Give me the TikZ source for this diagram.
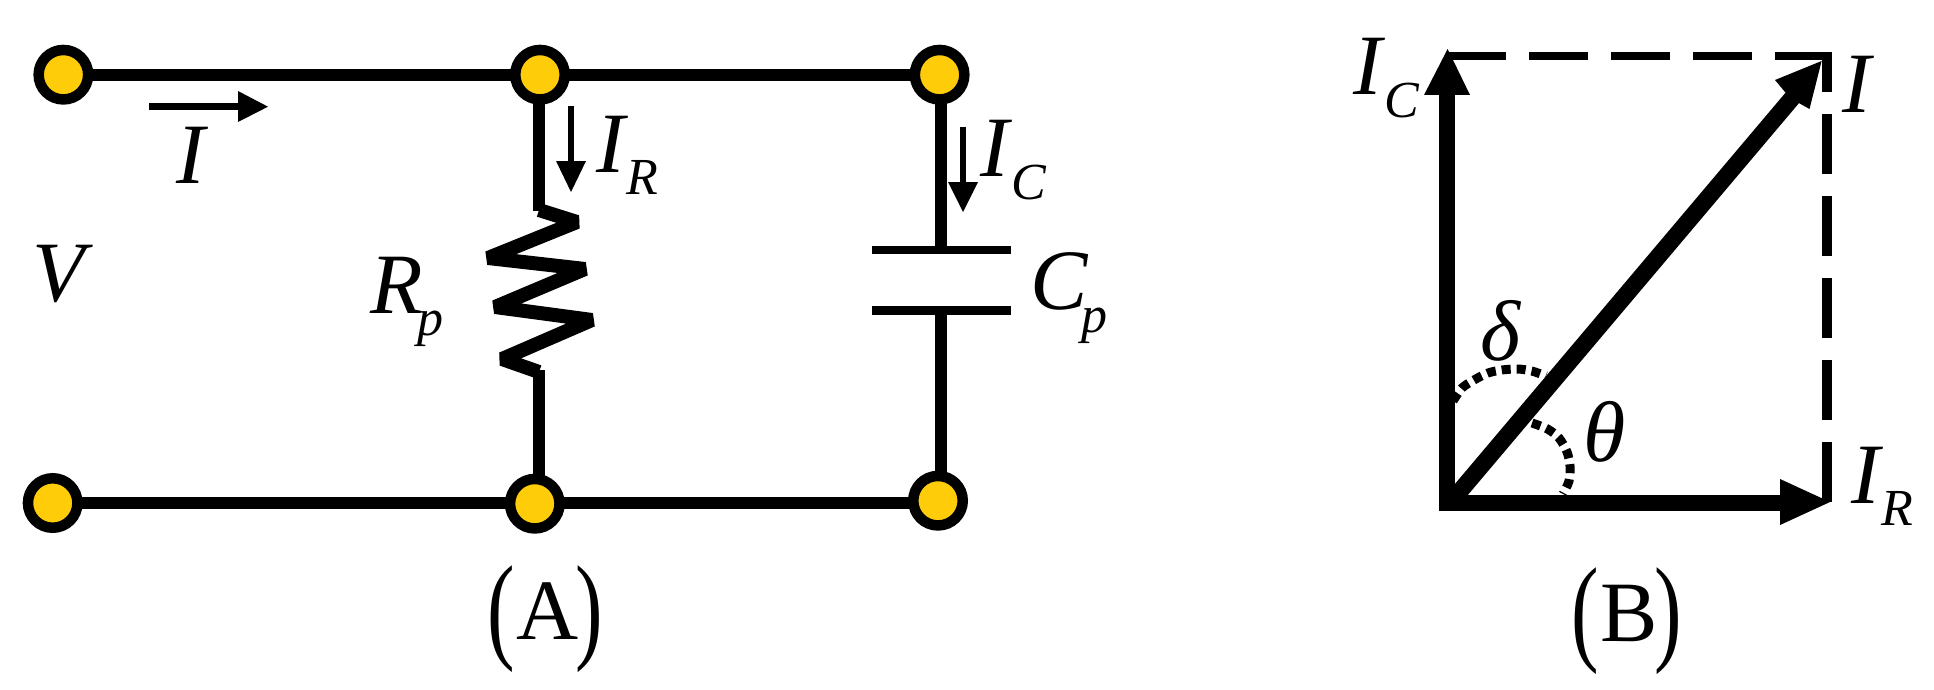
\documentclass[tikz,border=0pt]{standalone}
\usepackage{fontspec}
\setmainfont{Liberation Serif}
\usetikzlibrary{backgrounds}
\definecolor{termyellow}{RGB}{255,204,10}
\newcommand{\bigfs}{\fontsize{86}{86}\selectfont}
\newcommand{\subfs}{\fontsize{52}{52}\selectfont}
\newcommand{\withsub}[4]{#1\hspace{#3}\raisebox{#4}{\subfs #2}}
\newcommand{\bigparen}[1]{\scalebox{0.7}[1]{\upshape\fontsize{118}{118}\selectfont #1}}
\newcommand{\capt}[1]{\bigparen{(}\hspace{2pt}\raisebox{8pt}{\upshape\fontsize{86}{86}\selectfont #1}\hspace{-3pt}\bigparen{)}}
\tikzset{
  x=1pt,y=-1pt,
  term/.style={circle,draw=black,fill=termyellow,line width=10.5pt,minimum size=49.5pt,inner sep=0pt,outer sep=0pt},
  wire/.style={line width=12pt,draw=black,line cap=butt},
  plate/.style={line width=8.5pt,draw=black},
  zig/.style={line width=14pt,draw=black,line join=bevel},
  smallarrow/.style={line width=6pt,draw=black},
  phasor/.style={line width=16pt,draw=black},
  tipfill/.style={fill=black,draw=none},
  dashh/.style={line width=8pt,draw=black,dash pattern=on 59pt off 23pt},
  dashv/.style={line width=9.5pt,draw=black,dash pattern=on 60pt off 22pt},
  dots/.style={line width=9pt,draw=black,dash pattern=on 9pt off 6pt},
  lab/.style={anchor=base west,inner sep=0pt,outer sep=0pt,font=\itshape\bigfs},
  captionlab/.style={anchor=base west,inner sep=0pt,outer sep=0pt},
}
\begin{document}
\begin{tikzpicture}
\useasboundingbox (0,0) rectangle (1934,690);
% terminals
\node[term] (tl) at (63.4,74.7) {};
\node[term] (tm) at (540,74.7) {};
\node[term] (tr) at (939.6,74.7) {};
\node[term] (bl) at (52.7,503) {};
\node[term] (bm) at (534.8,503.7) {};
\node[term] (br) at (938,500.7) {};
% branch coordinates
\coordinate (rtop) at (539,211);
\coordinate (rbot) at (539,370);
\coordinate (ctop) at (941,250);
\coordinate (cbot) at (941,310.5);
\coordinate (cl1) at (872,250);
\coordinate (cr1) at (1011,250);
\coordinate (cl2) at (872,310.5);
\coordinate (cr2) at (1011,310.5);
\begin{pgfonlayer}{background}
\draw[wire] (tl) -- (tm) -- (tr);
\draw[wire] (bl) -- (bm |- bl) -- (br |- bl);
\draw[wire] (rtop) -- (rtop |- tm);
\draw[wire] (rbot) -- (rbot |- bm);
\draw[wire] (ctop) -- (ctop |- tr);
\draw[wire] (cbot) -- (cbot |- br);
\end{pgfonlayer}
\draw[zig] (539,210) -- (577,222) -- (488,258) -- (585,269) -- (495,307) -- (592,320) -- (502,359) -- (539,372);
\draw[plate] (cl1) -- (cr1);
\draw[plate] (cl2) -- (cr2);
% current arrows
\coordinate (ia) at (149,106.7); \coordinate (ib) at (239,106.7); \coordinate (ic) at (268,106.7);
\draw[smallarrow,line width=6.7pt] (ia) -- (ib);
\fill[tipfill] (238,91) -- (ic) -- (238,122) -- cycle;
\coordinate (ra) at (571,106); \coordinate (rb) at (571,162); \coordinate (rc) at (571,192);
\draw[smallarrow] (ra) -- (rb);
\fill[tipfill] (556,161) -- (586,161) -- (rc) -- cycle;
\coordinate (ca) at (963,127); \coordinate (cb) at (963,183); \coordinate (cc) at (963,212);
\draw[smallarrow] (ca) -- (cb);
\fill[tipfill] (948,182) -- (978,182) -- (cc) -- cycle;
% circuit labels
\node[lab] (lI) at (176,183) {I};
\node[lab] (lV) at (32,301) {V};
\node[lab] (lIR) at (596,172) {\withsub{I}{R}{2pt}{-22pt}};
\node[lab] (lRp) at (370,313) {\withsub{R}{p}{-5pt}{-22pt}};
\node[lab] (lIC) at (980,176) {\withsub{I}{C}{3pt}{-23pt}};
\node[lab] (lCp) at (1030,309) {\withsub{C}{p}{-6pt}{-23pt}};
\node[captionlab] (capA) at (487,647) {\capt{A}};
% phasor diagram
\coordinate (o) at (1447,503);
\coordinate (ictip) at (1447.6,49);
\coordinate (irtip) at (1830,502);
\coordinate (itip) at (1821.6,61);
\coordinate (dh0) at (1447,56);
\coordinate (dh1) at (1832,56);
\coordinate (dv0) at (1827,502);
\coordinate (dv1) at (1827,52);
\draw[dashh] (dh0) -- (dh1);
\draw[dashv] (dv0) -- (dv1);
\draw[phasor] (1439,503) -- (1782,503);
\fill[tipfill] (1780,479) -- (irtip) -- (1780,525) -- cycle;
\draw[phasor] (1447,511) -- (1447,93);
\fill[tipfill] (1424,95) -- (ictip) -- (1470,95) -- cycle;
\draw[line width=17pt,draw=black] (1455,497) -- (1793,97);
\fill[tipfill] (1775,80) -- (itip) -- (1809.5,109) -- (1797,102) -- (1785,92) -- cycle;
\draw[dots] plot[smooth] coordinates {(1453,401) (1462,388) (1474,380) (1488,373) (1502,370) (1517.5,369) (1531.7,371) (1546,376)};
\draw[dots] plot[smooth] coordinates {(1532,423) (1547.5,429) (1559,438) (1567,452) (1570,466) (1569,481) (1563,494)};
\node[lab] (lIC2) at (1353,95) {\withsub{I}{C}{3pt}{-23pt}};
\node[lab] (lI2) at (1842,113) {I};
\node[lab] (ldelta) at (1480,360) {δ};
\node[lab] (ltheta) at (1583,461) {θ};
\node[lab] (lIR2) at (1851,503) {\withsub{I}{R}{2pt}{-22pt}};
\node[captionlab] (capB) at (1571,649) {\capt{B}};
\end{tikzpicture}
\end{document}
